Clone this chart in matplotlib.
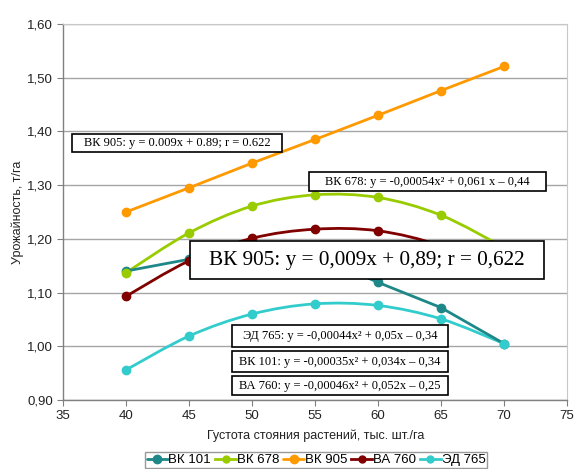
import numpy as np
import matplotlib
matplotlib.use("Agg")
import matplotlib.pyplot as plt
from matplotlib.path import Path
from matplotlib.patches import PathPatch, Rectangle
from matplotlib.ticker import FuncFormatter, MultipleLocator

# %%
density = [40, 45, 50, 55, 60, 65, 70]
vk101 = [1.140, 1.162, 1.175, 1.170, 1.119, 1.072, 1.005]
vk678 = [1.137, 1.211, 1.261, 1.282, 1.277, 1.244, 1.184]
vk905 = [1.250, 1.295, 1.341, 1.385, 1.430, 1.476, 1.521]
va760 = [1.093, 1.159, 1.201, 1.218, 1.215, 1.187, 1.136]
ed765 = [0.956, 1.019, 1.060, 1.079, 1.076, 1.051, 1.005]

series_names = ['ВК 101', 'ВК 678', 'ВК 905', 'ВА 760', 'ЭД 765']
series_values = [vk101, vk678, vk905, va760, ed765]
series_colors = ['#1e8787', '#99cc00', '#ff9900', '#800000', '#33cccc']
series_smooth = [False, True, False, True, True]

small_labels = [
    'ВК 905: y = 0.009x + 0.89; r = 0.622',
    'ВК 678: y = -0,00054x² + 0,061 x – 0,44',
    'ЭД 765: y = -0,00044x² + 0,05x – 0,34',
    'ВК 101: y = -0,00035x² + 0,034x – 0,34',
    'ВА 760: y = -0,00046x² + 0,052x – 0,25',
]
big_label = 'ВК 905: y = 0,009x + 0,89; r = 0,622'

# %%
W, H = 577, 469
fig = plt.figure(figsize=(W / 100, H / 100), dpi=100)
ax = fig.add_axes([63 / W, 1 - 400 / H, (567 - 63) / W, (400 - 24) / H])


def smooth_path(xs, ys):
    # excel-like smoothed line: cubic bezier through the points
    pts = np.column_stack([xs, ys]).astype(float)
    ext = np.vstack([pts[0], pts, pts[-1]])
    verts = [pts[0]]
    codes = [Path.MOVETO]
    for i in range(len(pts) - 1):
        p0, p1, p2, p3 = ext[i], ext[i + 1], ext[i + 2], ext[i + 3]
        verts += [p1 + (p2 - p0) / 6, p2 - (p3 - p1) / 6, p2]
        codes += [Path.CURVE4] * 3
    return Path(verts, codes)


for name, vals, col, sm in zip(series_names, series_values, series_colors, series_smooth):
    if sm:
        ax.add_patch(PathPatch(smooth_path(density, vals), fill=False, edgecolor=col,
                               lw=2.0, capstyle='round', joinstyle='round', zorder=3))
        ax.plot(density, vals, ls='none', marker='o', ms=6, color=col, zorder=4)
        ax.plot([], [], color=col, lw=2.0, marker='o', ms=5, label=name)
    else:
        ax.plot(density, vals, color=col, lw=2.0, marker='o', ms=6, zorder=4,
                solid_capstyle='round', label=name)

ax.set_xlim(35, 75)
ax.set_ylim(0.9, 1.6)
ax.xaxis.set_major_locator(MultipleLocator(5))
ax.yaxis.set_major_locator(MultipleLocator(0.1))
ax.yaxis.set_major_formatter(FuncFormatter(lambda v, p: f'{v:.2f}'.replace('.', ',')))
ax.grid(axis='y', color='#a6a6a6', lw=1.0)
ax.set_axisbelow(True)
for s in ['top', 'right']:
    ax.spines[s].set_color('#c8c8c8')
for s in ['left', 'bottom']:
    ax.spines[s].set_color('#808080')
    ax.spines[s].set_linewidth(1.0)
ax.tick_params(axis='both', direction='out', length=4, color='#808080',
               labelsize=9.5, labelcolor='#222222', pad=3)
for lab in ax.get_xticklabels() + ax.get_yticklabels():
    lab.set_family('Liberation Sans')

fig.text(316 / W, 1 - 436 / H, 'Густота стояния растений, тыс. шт./га', ha='center', va='center',
         fontsize=9, family='Liberation Sans', color='#222222')
fig.text(18 / W, 1 - 212 / H, 'Урожайность, т/га', ha='center', va='center', rotation=90,
         fontsize=9, family='Liberation Sans', color='#222222')

leg = fig.legend(loc='center', bbox_to_anchor=(316 / W, 1 - 460 / H), ncol=5,
                 prop={'family': 'Liberation Sans', 'size': 9.5}, frameon=True, fancybox=False,
                 handlelength=1.6, handletextpad=0.05, columnspacing=0.3, borderpad=0.15,
                 borderaxespad=0, edgecolor='#808080')
leg.get_frame().set_linewidth(1.0)

# annotation boxes (figure pixels: x0, y0 top, x1, y1 bottom)
small_boxes = [(72, 134, 282, 152), (309, 172, 546, 191), (232, 325, 448, 347),
               (232, 351, 448, 372), (232, 376, 448, 395)]


def boxed_text(x0, y0, x1, y1, txt, size):
    fig.add_artist(Rectangle((x0 / W, 1 - y1 / H), (x1 - x0) / W, (y1 - y0) / H,
                             transform=fig.transFigure, facecolor='white', edgecolor='black',
                             lw=1.2, zorder=10))
    fig.text((x0 + x1) / 2 / W, 1 - (y0 + y1) / 2 / H, txt, ha='center', va='center',
             fontsize=size, family='Liberation Serif', color='#000000', zorder=11)


for (x0, y0, x1, y1), txt in zip(small_boxes, small_labels):
    boxed_text(x0, y0, x1, y1, txt, 9)
boxed_text(190, 241, 544, 279, big_label, 15.3)

fig.savefig('out.png', dpi=100)
